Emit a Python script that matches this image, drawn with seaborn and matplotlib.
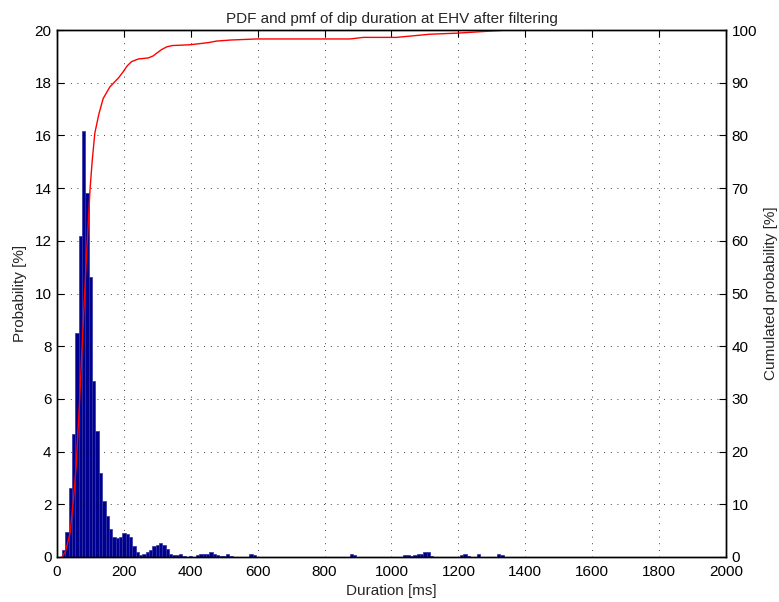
import numpy as np
import pandas as pd
import matplotlib
matplotlib.use("Agg")
import matplotlib.pyplot as plt
import seaborn as sns

# Histogram (pmf) values: bin centres [ms] and probability [%]
bin_centers = [20, 30, 40, 50, 60, 70, 80, 90, 100, 110, 120, 130, 140, 150, 160,
               170, 180, 190, 200, 210, 220, 230, 240, 250, 260, 270, 280, 290, 300,
               310, 320, 330, 340, 350, 360, 370, 380, 400, 420, 430, 440, 450, 460,
               470, 480, 490, 500, 510, 520, 580, 590, 880, 890, 1040, 1050, 1060,
               1070, 1080, 1090, 1100, 1110, 1120, 1210, 1220, 1230, 1260, 1320, 1330]
probability = [0.28, 0.93, 2.6, 4.66, 8.5, 12.2, 16.15, 13.8, 10.63, 6.67, 4.8, 3.2,
               2.14, 1.55, 1.07, 0.75, 0.72, 0.75, 0.92, 0.88, 0.75, 0.43, 0.2, 0.08,
               0.1, 0.2, 0.28, 0.4, 0.45, 0.55, 0.45, 0.3, 0.1, 0.07, 0.07, 0.1, 0.05,
               0.03, 0.08, 0.1, 0.1, 0.12, 0.2, 0.1, 0.08, 0.05, 0.05, 0.1, 0.05, 0.1,
               0.08, 0.1, 0.08, 0.07, 0.07, 0.05, 0.08, 0.1, 0.1, 0.18, 0.18, 0.05,
               0.08, 0.1, 0.05, 0.1, 0.1, 0.08]

# Cumulated probability curve
cdf_duration = [15, 25, 39, 49, 57, 67, 77, 88, 99, 105, 113, 125, 138, 158, 173, 185,
                198, 210, 223, 243, 273, 288, 298, 313, 328, 345, 398, 452, 477, 520,
                597, 876, 916, 1015, 1115, 1195, 1349]
cdf_percent = [0, 1, 4.5, 10.8, 17, 29, 42.5, 57, 70, 75, 80.4, 84, 87, 89.2, 90.2,
               91, 92.1, 93.2, 94, 94.5, 94.7, 95.1, 95.6, 96.3, 96.8, 97.05, 97.2,
               97.6, 97.9, 98.1, 98.3, 98.3, 98.6, 98.6, 99.2, 99.4, 100]

x_ticks = list(range(0, 2001, 200))
y_ticks = list(range(0, 21, 2))
y2_ticks = list(range(0, 101, 10))

sns.set_style("white")
plt.rcParams['font.family'] = ['Liberation Sans', 'DejaVu Sans']
FS = 11

fig = plt.figure(figsize=(7.79, 6.02), dpi=100)
ax = fig.add_axes([57/779, 1-557/602, (726-57)/779, (557-30)/602])

hist_df = pd.DataFrame({"duration": bin_centers, "prob": probability})
sns.histplot(data=hist_df, x="duration", weights="prob", binwidth=10,
             binrange=(15, 1345), stat="count", element="bars", color="#00008F",
             alpha=1.0, edgecolor="#3030A8", linewidth=0.5, ax=ax)

ax.set_xlim(0, 2000)
ax.set_ylim(0, 20)
ax.set_xticks(x_ticks)
ax.set_yticks(y_ticks)
ax.grid(True, color="black", linestyle=(0, (1, 7)), linewidth=0.6)
ax.set_axisbelow(False)
ax.tick_params(direction="in", length=5, labelsize=FS, top=True, right=False,
               colors="black", pad=4)
ax.tick_params(axis="x", pad=6)
ax.set_xlabel("Duration [ms]", fontsize=FS, labelpad=3)
ax.set_ylabel("Probability [%]", fontsize=FS, labelpad=5)
ax.set_title("PDF and pmf of dip duration at EHV after filtering", fontsize=FS, pad=5)

ax2 = ax.twinx()
cdf_df = pd.DataFrame({"duration": cdf_duration, "cdf": cdf_percent})
sns.lineplot(data=cdf_df, x="duration", y="cdf", color="red", linewidth=1.0, ax=ax2)
ax2.set_ylim(0, 100)
ax2.set_xlim(0, 2000)
ax2.set_yticks(y2_ticks)
ax2.tick_params(direction="in", length=5, labelsize=FS, colors="black", pad=4)
ax2.set_ylabel("Cumulated probability [%]", fontsize=FS, labelpad=5)
ax2.set_xlabel("")

for a in (ax, ax2):
    for s in a.spines.values():
        s.set_color("black")
        s.set_linewidth(1.0)
        s.set_visible(True)

fig.savefig("out.png", dpi=100)
